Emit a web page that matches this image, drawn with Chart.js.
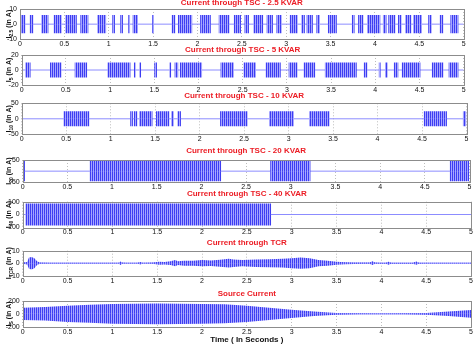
<!DOCTYPE html>
<html>
<head>
<meta charset="utf-8">
<script src="https://cdn.jsdelivr.net/npm/chart.js@4.4.1/dist/chart.umd.min.js"></script>
<style>
html, body { margin: 0; padding: 0; background: #fff; }
#wrap { position: relative; width: 476px; height: 349px; overflow: hidden; }
#wrap canvas { position: absolute; left: 0; top: 0; }
</style>
</head>
<body>
<div id="wrap"></div>
<script>
'use strict';
let xTickLabels = ['0', '0.5', '1', '1.5', '2', '2.5', '3', '3.5', '4', '4.5', '5'];

// switching windows of each capacitor bank, in seconds, and peak current in A
let tsc25Bursts = [[0.01, 0.06], [0.11, 0.15], [0.24, 0.32], [0.38, 0.47], [0.51, 0.64], [0.68, 0.77], [0.87, 0.97],
    [1.04, 1.07], [1.13, 1.16], [1.22, 1.24], [1.27, 1.33], [1.49, 1.51], [1.71, 1.75], [1.78, 1.94], [2.03, 2.15],
    [2.24, 2.36], [2.41, 2.49], [2.53, 2.58], [2.63, 2.74], [2.78, 2.85], [2.89, 2.95], [3.04, 3.13], [3.17, 3.21],
    [3.23, 3.30], [3.34, 3.38], [3.47, 3.57], [3.74, 3.77], [3.81, 3.87], [3.91, 4.06], [4.09, 4.13], [4.15, 4.23],
    [4.26, 4.30], [4.34, 4.41], [4.43, 4.53], [4.60, 4.64], [4.73, 4.77], [4.85, 4.94]];
let tsc25Peak = 6;
let tsc5Bursts = [[0.04, 0.10], [0.32, 0.45], [0.60, 0.74], [0.97, 1.23], [1.27, 1.29], [1.33, 1.35], [1.50, 1.53],
    [1.67, 1.69], [1.73, 1.77], [1.79, 2.04], [2.25, 2.40], [2.51, 2.65], [2.76, 2.93], [3.02, 3.12], [3.19, 3.32],
    [3.43, 3.79], [3.87, 3.91], [4.04, 4.06], [4.11, 4.14], [4.21, 4.26], [4.30, 4.51], [4.64, 4.77], [4.83, 4.94]];
let tsc5Peak = 10;
let tsc10Bursts = [[0.47, 0.76], [1.22, 1.25], [1.26, 1.30], [1.32, 1.47], [1.51, 1.66], [1.68, 1.71], [1.75, 1.79],
    [2.23, 2.54], [2.78, 3.06], [3.23, 3.46], [4.52, 4.78], [4.96, 5.0]];
let tsc10Peak = 24;
let tsc20Bursts = [[0.0, 0.025], [0.75, 2.22], [2.77, 3.22], [4.78, 5.0]];
let tsc20Peak = 45;
let tsc40Bursts = [[0.03, 2.77]];
let tsc40Peak = 85;

// envelope (peak) of the TCR and source currents
let tcrTimes = [0, 0.05, 0.07, 0.10, 0.13, 0.16, 0.19, 0.3, 0.6, 1.0, 1.07, 1.09, 1.11, 1.15, 1.28, 1.31, 1.34,
    1.45, 1.52, 1.58, 1.65, 1.70, 1.73, 1.8, 1.9, 2.0, 2.1, 2.2, 2.3, 2.35, 2.45, 2.6, 2.75, 2.9, 3.0, 3.1, 3.2,
    3.3, 3.4, 3.5, 3.6, 3.7, 3.8, 3.87, 3.9, 3.93, 4.0, 4.05, 4.08, 4.11, 4.2, 4.35, 4.39, 4.42, 4.5, 5.0];
let tcrPeaks = [0.5, 1.0, 4.5, 5.0, 4.0, 1.5, 0.5, 0.3, 0.3, 0.3, 0.3, 1.4, 0.5, 0.3, 0.3, 1.0, 0.3,
    0.5, 1.2, 1.0, 1.5, 2.5, 1.5, 2.0, 2.0, 2.5, 2.2, 2.8, 3.5, 3.0, 2.5, 3.0, 3.2, 3.5, 4.0, 4.5, 4.0,
    2.5, 2.0, 1.2, 0.8, 0.6, 0.5, 0.5, 1.5, 0.5, 0.4, 0.4, 1.2, 0.4, 0.4, 0.4, 1.3, 0.4, 0.3, 0.3];
let sourceTimes = [0, 0.25, 0.5, 0.75, 1, 1.25, 1.5, 1.75, 2, 2.25, 2.5, 2.75, 3, 3.25, 3.5, 3.75, 4, 4.25, 4.5, 4.75, 5];
let sourcePeaks = [95, 105, 125, 140, 155, 158, 160, 158, 155, 148, 125, 95, 65, 35, 15, 8, 5, 8, 15, 35, 60];

let fontFam = '"Liberation Sans", Arial, sans-serif';

function burstPoints(bursts, peak, sign) {
    let pts = [{ x: 0, y: 0 }];
    for (let i = 0; i < bursts.length; i++) {
        let s = bursts[i][0], e = bursts[i][1];
        pts.push({ x: s, y: 0 }, { x: s, y: sign * peak }, { x: e, y: sign * peak }, { x: e, y: 0 });
    }
    pts.push({ x: 5, y: 0 });
    return pts;
}

function envelopePoints(times, peaks, sign) {
    let pts = [];
    for (let i = 0; i < times.length; i++) {
        pts.push({ x: times[i], y: sign * peaks[i] });
    }
    return pts;
}

// thin vertical stripes so a filled band reads like a dense sine wave
function stripes() {
    let c = document.createElement('canvas');
    c.width = 2;
    c.height = 1;
    let g = c.getContext('2d');
    g.fillStyle = '#3d3df2';
    g.fillRect(0, 0, 1, 1);
    g.fillStyle = '#a6a6ff';
    g.fillRect(1, 0, 1, 1);
    return g.createPattern(c, 'repeat');
}

let panels = [
    { title: 'Current through TSC - 2.5 KVAR', sub: '2.5', range: 10, left: 20, right: 463.7, top: 9, bottom: 39.3, titleY: 3,
      upper: burstPoints(tsc25Bursts, tsc25Peak, 1), lower: burstPoints(tsc25Bursts, tsc25Peak, -1) },
    { title: 'Current through TSC - 5 KVAR', sub: '5', range: 20, left: 21.7, right: 463.7, top: 55, bottom: 85, titleY: 50,
      upper: burstPoints(tsc5Bursts, tsc5Peak, 1), lower: burstPoints(tsc5Bursts, tsc5Peak, -1) },
    { title: 'Current through TSC - 10 KVAR', sub: '10', range: 50, left: 21.7, right: 466.5, top: 103.3, bottom: 134.3, titleY: 96,
      upper: burstPoints(tsc10Bursts, tsc10Peak, 1), lower: burstPoints(tsc10Bursts, tsc10Peak, -1) },
    { title: 'Current through TSC - 20 KVAR', sub: '20', range: 50, left: 22.7, right: 469.5, top: 160, bottom: 182.3, titleY: 150.5,
      upper: burstPoints(tsc20Bursts, tsc20Peak, 1), lower: burstPoints(tsc20Bursts, tsc20Peak, -1) },
    { title: 'Current through TSC - 40 KVAR', sub: '40', range: 100, left: 22.7, right: 471, top: 201.7, bottom: 227.3, titleY: 194,
      upper: burstPoints(tsc40Bursts, tsc40Peak, 1), lower: burstPoints(tsc40Bursts, tsc40Peak, -1) },
    { title: 'Current through TCR', sub: 'TCR', range: 10, left: 22.7, right: 471, top: 250.7, bottom: 275.7, titleY: 243,
      upper: envelopePoints(tcrTimes, tcrPeaks, 1), lower: envelopePoints(tcrTimes, tcrPeaks, -1) },
    { title: 'Source Current', sub: 'S', range: 200, left: 22.7, right: 471, top: 301, bottom: 326.7, titleY: 293.5,
      upper: envelopePoints(sourceTimes, sourcePeaks, 1), lower: envelopePoints(sourceTimes, sourcePeaks, -1),
      xTitle: 'Time ( In Seconds )' }
];

let panelDeco = {
    id: 'panelDeco',
    afterDraw(chart, args, opts) {
        let a = chart.chartArea;
        let ctx = chart.ctx;
        ctx.save();
        ctx.strokeStyle = '#8c8c8c';
        ctx.lineWidth = 1;
        ctx.strokeRect(Math.round(a.left) + 0.5, Math.round(a.top) + 0.5, Math.round(a.right - a.left), Math.round(a.bottom - a.top));

        ctx.fillStyle = '#ec1c24';
        ctx.font = 'bold 8px ' + fontFam;
        ctx.textAlign = 'center';
        ctx.textBaseline = 'middle';
        ctx.fillText(opts.title, (a.left + a.right) / 2, opts.titleY);

        if (opts.xTitle) {
            ctx.fillStyle = '#111';
            ctx.fillText(opts.xTitle, (a.left + a.right) / 2, 340);
        }

        // rotated y label with subscript: I_sub (in A)
        ctx.translate(8.5, (a.top + a.bottom) / 2);
        ctx.rotate(-Math.PI / 2);
        ctx.fillStyle = '#111';
        ctx.textAlign = 'left';
        ctx.textBaseline = 'alphabetic';
        let big = 'bold 7px ' + fontFam;
        let small = 'bold 5px ' + fontFam;
        ctx.font = big;
        let w1 = ctx.measureText('I').width;
        let w3 = ctx.measureText(' (in A)').width;
        ctx.font = small;
        let w2 = ctx.measureText(opts.sub).width;
        let x0 = -(w1 + w2 + w3) / 2;
        ctx.font = big;
        ctx.fillText('I', x0, 2.5);
        ctx.font = small;
        ctx.fillText(opts.sub, x0 + w1, 4.5);
        ctx.font = big;
        ctx.fillText(' (in A)', x0 + w1 + w2, 2.5);
        ctx.restore();
    }
};

let wrap = document.getElementById('wrap');
let fill = stripes();

for (let i = 0; i < panels.length; i++) {
    let p = panels[i];
    let canvas = document.createElement('canvas');
    canvas.width = 476;
    canvas.height = 349;
    wrap.appendChild(canvas);
    let xAxisHeight = 10;

    new Chart(canvas.getContext('2d'), {
        type: 'line',
        data: {
            datasets: [{
                data: p.upper,
                borderColor: 'transparent',
                backgroundColor: fill,
                fill: 'origin',
                pointRadius: 0,
                tension: 0
            }, {
                data: p.lower,
                borderColor: 'transparent',
                backgroundColor: fill,
                fill: 'origin',
                pointRadius: 0,
                tension: 0
            }, {
                data: [{ x: 0, y: 0 }, { x: 5, y: 0 }],
                borderColor: '#8c8cff',
                borderWidth: 1,
                pointRadius: 0,
                fill: false
            }]
        },
        plugins: [panelDeco],
        options: {
            responsive: false,
            animation: false,
            events: [],
            layout: {
                padding: { top: p.top, right: 476 - p.right, bottom: 349 - p.bottom - xAxisHeight, left: 0 }
            },
            scales: {
                x: {
                    type: 'linear',
                    min: 0,
                    max: 5,
                    afterFit: function (scale) { scale.height = xAxisHeight; },
                    grid: { color: '#bdbdbd', lineWidth: 1, drawTicks: false },
                    border: { display: false, dash: [1, 2] },
                    ticks: {
                        stepSize: 0.5,
                        padding: 1,
                        color: '#111',
                        font: { family: fontFam, size: 7 },
                        maxRotation: 0,
                        callback: function (value, index) { return xTickLabels[index]; }
                    }
                },
                y: {
                    min: -p.range,
                    max: p.range,
                    afterFit: function (scale) { scale.width = p.left; },
                    grid: { display: false, drawTicks: false },
                    border: { display: false },
                    ticks: {
                        stepSize: p.range,
                        padding: 3,
                        color: '#111',
                        font: { family: fontFam, size: 7 }
                    }
                }
            },
            plugins: {
                legend: { display: false },
                tooltip: { enabled: false },
                panelDeco: { title: p.title, titleY: p.titleY, sub: p.sub, xTitle: p.xTitle }
            }
        }
    });
}
</script>
</body>
</html>
